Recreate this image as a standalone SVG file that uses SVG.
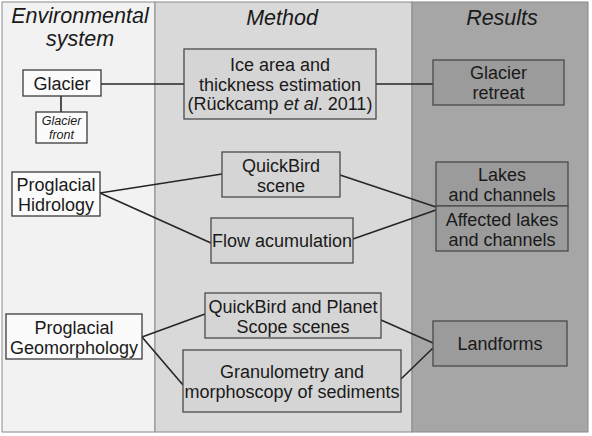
<svg xmlns="http://www.w3.org/2000/svg" width="592" height="436" viewBox="0 0 592 436">
<style>
text{font-family:"Liberation Sans",Arial,sans-serif;fill:#1a1a1a;text-anchor:middle}
.h{font-size:21.5px;font-style:italic}
.t{font-size:18px}
.s{font-size:12.5px;font-style:italic}
.bl{fill:#fbfbfb;stroke:#3a3a3a;stroke-width:1.3}
.bm{fill:#d5d5d5;stroke:#4a4a4a;stroke-width:1.3}
.br{fill:#9b9b9b;stroke:#4a4a4a;stroke-width:1.3}
.c{stroke:#262626;stroke-width:1.6;fill:none}
</style>
<rect x="0" y="0" width="592" height="436" fill="#ffffff"/>
<rect x="2" y="2" width="153" height="430" fill="#f2f2f2" stroke="#8a8a8a" stroke-width="1"/>
<rect x="155" y="2" width="257" height="430" fill="#d9d9d9" stroke="#8a8a8a" stroke-width="1"/>
<rect x="412" y="2" width="176" height="430" fill="#a6a6a6" stroke="#8a8a8a" stroke-width="1"/>
<g id="headers">
<text class="h" x="80" y="23">Environmental</text>
<text class="h" x="80" y="46">system</text>
<text class="h" x="282" y="25">Method</text>
<text class="h" x="502" y="25">Results</text>
</g>
<g id="connectors">
<line class="c" x1="61" y1="96" x2="61" y2="112"/>
<line class="c" x1="101" y1="84" x2="184" y2="84"/>
<line class="c" x1="376" y1="84" x2="433" y2="84"/>
<line class="c" x1="100" y1="193" x2="222" y2="174"/>
<line class="c" x1="100" y1="193" x2="211" y2="243"/>
<line class="c" x1="340" y1="175" x2="436" y2="207"/>
<line class="c" x1="353" y1="239" x2="436" y2="210"/>
<line class="c" x1="142" y1="337" x2="205" y2="314"/>
<line class="c" x1="142" y1="337" x2="183" y2="385"/>
<line class="c" x1="381" y1="320" x2="433" y2="343"/>
<line class="c" x1="401" y1="379" x2="433" y2="348"/>
</g>
<g id="glacier">
<rect class="bl" x="23" y="70" width="78" height="26"/>
<text class="t" x="62" y="89.5">Glacier</text>
</g>
<g id="glacier-front">
<rect class="bl" x="36" y="112" width="51" height="31"/>
<text class="s" x="61.5" y="125">Glacier</text>
<text class="s" x="61.5" y="139">front</text>
</g>
<g id="ice-area">
<rect class="bm" x="184" y="49" width="192" height="70"/>
<text class="t" x="280" y="71">Ice area and</text>
<text class="t" x="280" y="90.5">thickness estimation</text>
<text class="t" x="280" y="110">(Rückcamp <tspan font-style="italic">et al</tspan>. 2011)</text>
</g>
<g id="glacier-retreat">
<rect class="br" x="433" y="60" width="131" height="45"/>
<text class="t" x="498.5" y="78.5">Glacier</text>
<text class="t" x="498.5" y="98.5">retreat</text>
</g>
<g id="proglacial-hidrology">
<rect class="bl" x="12" y="172" width="88" height="44"/>
<text class="t" x="56" y="190.5">Proglacial</text>
<text class="t" x="56" y="210.5">Hidrology</text>
</g>
<g id="quickbird-scene">
<rect class="bm" x="222" y="152" width="118" height="45"/>
<text class="t" x="281" y="172">QuickBird</text>
<text class="t" x="281" y="192">scene</text>
</g>
<g id="flow-acumulation">
<rect class="bm" x="211" y="218" width="142" height="45"/>
<text class="t" x="282" y="246.5">Flow acumulation</text>
</g>
<g id="lakes">
<rect class="br" x="436" y="162" width="132" height="44"/>
<text class="t" x="502" y="180.5">Lakes</text>
<text class="t" x="502" y="200.5">and channels</text>
</g>
<g id="affected-lakes">
<rect class="br" x="436" y="206" width="132" height="45"/>
<text class="t" x="502" y="225.5">Affected lakes</text>
<text class="t" x="502" y="245.5">and channels</text>
</g>
<g id="proglacial-geomorphology">
<rect class="bl" x="6" y="314" width="136" height="45"/>
<text class="t" x="74" y="333.5">Proglacial</text>
<text class="t" x="74" y="354">Geomorphology</text>
</g>
<g id="quickbird-planet">
<rect class="bm" x="205" y="293" width="176" height="45"/>
<text class="t" x="293" y="312.5">QuickBird and Planet</text>
<text class="t" x="293" y="333">Scope scenes</text>
</g>
<g id="granulometry">
<rect class="bm" x="183" y="350" width="218" height="62"/>
<text class="t" x="292" y="377.5">Granulometry and</text>
<text class="t" x="292" y="397.5">morphoscopy of sediments</text>
</g>
<g id="landforms">
<rect class="br" x="433" y="321" width="134" height="45"/>
<text class="t" x="500" y="350">Landforms</text>
</g>
</svg>
